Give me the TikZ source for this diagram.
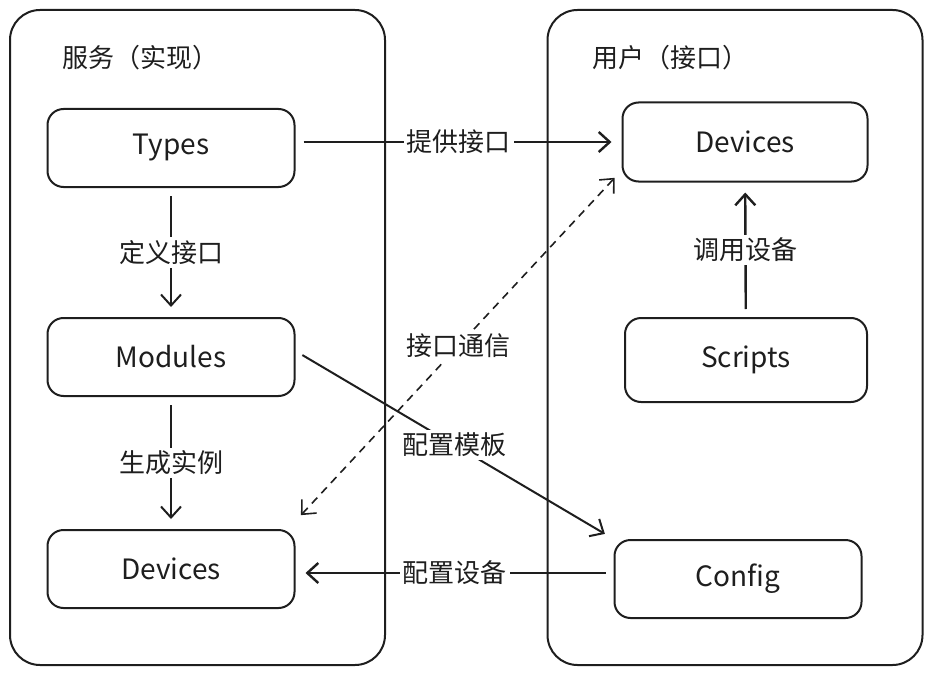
\documentclass[tikz,border=0pt]{standalone}
\usepackage{fontspec}
\setmainfont{Noto Sans CJK SC}
\usetikzlibrary{arrows.meta,positioning}
\definecolor{inkgray}{RGB}{30,30,30}

\begin{document}
\begin{tikzpicture}[x=1pt, y=-1pt, font=\fontsize{26}{30}\selectfont, color=inkgray, line width=2pt]
      \tikzstyle{frame}=[rectangle,rounded corners=30pt,draw,minimum width=375pt,minimum height=655pt]
      \tikzstyle{box}=[rectangle,rounded corners=16pt,draw,align=center,minimum width=247pt,minimum height=78pt,font=\fontsize{28}{32}\selectfont]
      \tikzstyle{lbl}=[fill=white,inner sep=3pt]
      \tikzstyle{arr}=[-{Straight Barb[length=11pt,width=20pt]},shorten <=8pt,shorten >=10pt]
      \useasboundingbox (0,0) rectangle (934,674);
      % two sides
      \node[frame] (SVC) at (197.5,337.5) {};
      \node[frame] (USR) at (735,337.5) {};
      \node[anchor=west] (SVCt) at (58,58) {服务（实现）};
      \node[anchor=west] (USRt) at (588,58) {用户（接口）};
      % service side
      \node[box] (Types) at (171,148) {Types};
      \node[box] (Mods) at (171,357) {Modules};
      \node[box] (DevL) at (171,569) {Devices};
      % user side
      \node[box,minimum width=245pt,minimum height=79pt] (DevR) at (745,142) {Devices};
      \node[box,minimum width=242pt,minimum height=84pt] (Scr) at (746,360) {Scripts};
      \node[box] (Cfg) at (738,579) {Config};
      \draw[arr,line width=2.4pt] ([yshift=6pt]Types.east) -- node[lbl] {提供接口} (DevR.west);
      \draw[arr] (Types) -- node[lbl] {定义接口} (Mods);
      \draw[arr] (Mods) -- node[lbl] {生成实例} (DevL);
      \draw[arr,line width=2.4pt] (Scr) -- node[lbl] {调用设备} (DevR);
      \draw[arr,line width=2.4pt] ([yshift=6pt]Cfg.west) -- node[lbl] {配置设备} ([yshift=-4pt]DevL.east);
      \draw[arr] ([yshift=6pt]Mods.east) -- node[lbl] {配置模板} (Cfg.north west);
      \draw[arr,{Straight Barb[length=11pt,width=20pt]}-{Straight Barb[length=11pt,width=20pt]},dash pattern=on 8pt off 6pt,line width=1.6pt] ([yshift=8pt]DevL.north east) -- node[lbl] {接口通信} ([yshift=12pt]DevR.south west);

    \end{tikzpicture}
\end{document}
